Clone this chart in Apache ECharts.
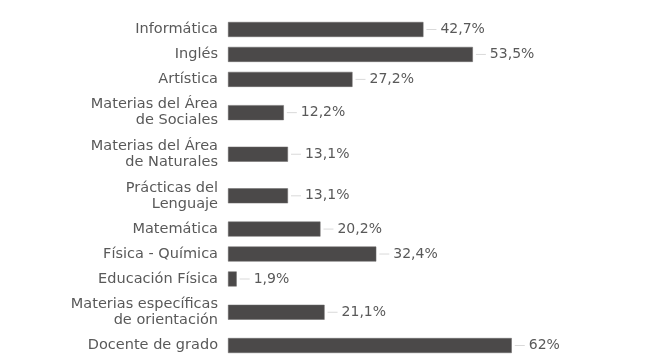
<!DOCTYPE html>
<html><head><meta charset="utf-8">
<script src="https://cdn.jsdelivr.net/npm/echarts@6/dist/echarts.min.js"></script>
<style>html,body{margin:0;padding:0;background:#fff}#c{width:648px;height:358px}</style>
</head><body><div id="c"></div>
<script>
const categories = [
  'Informática', 'Inglés', 'Artística', 'Materias del Área\nde Sociales',
  'Materias del Área\nde Naturales', 'Prácticas del\nLenguaje', 'Matemática',
  'Física - Química', 'Educación Física', 'Materias específicas\nde orientación', 'Docente de grado'
];
const values = [42.7, 53.5, 27.2, 12.2, 13.1, 13.1, 20.2, 32.4, 1.9, 21.1, 62];

// Rows with two-line labels take more vertical room: build slots.
const slotCats = [], slotVals = [];
categories.forEach((c, i) => {
  const n = c.split('\n').length === 1 ? 3 : 5;
  const mid = Math.floor(n / 2);
  for (let k = 0; k < n; k++) {
    slotCats.push(k === mid ? c : '');
    slotVals.push(k === mid ? values[i] : '-');
  }
});
const fmt = v => String(v).replace('.', ',') + '%';
const FONT = 'DejaVu Sans';
const chart = echarts.init(document.getElementById('c'));
chart.setOption({
  animation: false,
  grid: { left: 228, right: 63, top: 17, bottom: 0, containLabel: false },
  xAxis: { type: 'value', min: 0, max: 78, show: false },
  yAxis: {
    type: 'category', inverse: true, data: slotCats,
    axisLine: { show: false }, axisTick: { show: false },
    axisLabel: { interval: 0, margin: 10, color: '#595959', fontSize: 14.5, lineHeight: 16,
      fontFamily: FONT, align: 'right' }
  },
  series: [{
    type: 'bar', data: slotVals, barWidth: 15,
    itemStyle: { color: '#4b4949', borderColor: '#6a6868', borderWidth: 0.5 },
    label: {
      show: true, position: 'right', distance: 3,
      formatter: p => '{l|}{v|' + fmt(p.value) + '}',
      rich: {
        l: { width: 10, height: 1, backgroundColor: '#d9d9d9' },
        v: { color: '#595959', fontSize: 14, fontFamily: FONT, padding: [0, 0, 0, 4] }
      }
    }
  }]
});
</script></body></html>
